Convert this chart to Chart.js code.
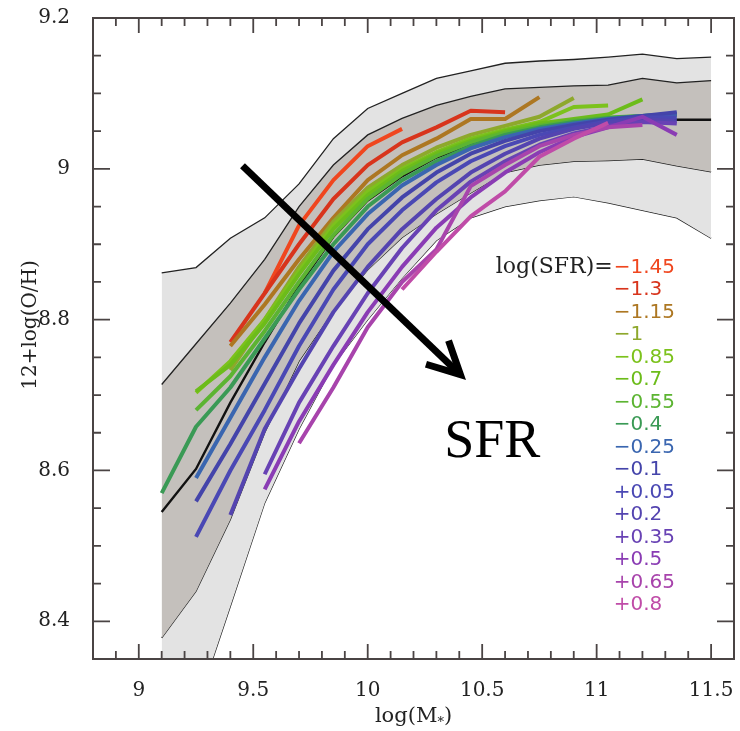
<!DOCTYPE html>
<html>
<head>
<meta charset="utf-8">
<script src="https://cdn.jsdelivr.net/npm/chart.js@4/dist/chart.umd.min.js"></script>
<style>
  html, body { margin: 0; padding: 0; background: #fff; }
</style>
</head>
<body>
<canvas id="mzr" width="740" height="731"></canvas>
<script>
// stellar mass bins, log(M*)
const massBins = [9.1, 9.25, 9.4, 9.55, 9.7, 9.85, 10.0, 10.15, 10.3, 10.45, 10.6, 10.75, 10.9, 11.05, 11.2, 11.35, 11.5];

// distribution envelopes, 12+log(O/H)
const outerUpper = [8.862, 8.869, 8.908, 8.935, 8.98, 9.04, 9.08, 9.10, 9.12, 9.13, 9.14, 9.143, 9.145, 9.148, 9.152, 9.146, 9.148];
const innerUpper = [8.714, 8.768, 8.822, 8.88, 8.95, 9.005, 9.045, 9.067, 9.084, 9.096, 9.106, 9.108, 9.110, 9.111, 9.12, 9.114, 9.117];
const medianLine = [8.545, 8.602, 8.69, 8.77, 8.845, 8.91, 8.958, 8.99, 9.015, 9.032, 9.045, 9.053, 9.058, 9.062, 9.064, 9.065, 9.065];
const innerLower = [8.378, 8.44, 8.535, 8.65, 8.745, 8.812, 8.866, 8.909, 8.94, 8.968, 8.995, 9.005, 9.01, 9.011, 9.013, 9.004, 8.996];
const outerLower = [8.15, 8.284, 8.42, 8.557, 8.655, 8.74, 8.80, 8.855, 8.905, 8.935, 8.95, 8.958, 8.963, 8.955, 8.945, 8.935, 8.908];

// one curve per log(SFR) bin (null = no data in that mass bin)
const sfrM145 = [null, null, null, 8.835, 8.925, 8.985, 9.03, 9.053, null, null, null, null, null, null, null, null, null];
const sfrM130 = [null, null, 8.77, 8.835, 8.9, 8.96, 9.005, 9.035, 9.055, 9.077, 9.075, null, null, null, null, null, null];
const sfrM115 = [null, null, 8.765, 8.82, 8.88, 8.935, 8.985, 9.018, 9.04, 9.066, 9.066, 9.095, null, null, null, null, null];
const sfrM100 = [null, null, 8.733, 8.80, 8.87, 8.93, 8.975, 9.005, 9.028, 9.045, 9.057, 9.069, 9.094, null, null, null, null];
const sfrM085 = [null, 8.703, 8.745, 8.80, 8.865, 8.925, 8.97, 9.0, 9.022, 9.04, 9.052, 9.062, 9.082, 9.084, null, null, null];
const sfrM070 = [null, 8.705, 8.74, 8.795, 8.86, 8.92, 8.965, 8.997, 9.02, 9.037, 9.05, 9.06, 9.066, 9.072, 9.092, null, null];
const sfrM055 = [null, 8.68, 8.725, 8.785, 8.85, 8.912, 8.96, 8.993, 9.017, 9.035, 9.048, 9.057, 9.064, 9.068, 9.07, 9.072, null];
const sfrM040 = [8.57, 8.658, 8.71, 8.775, 8.84, 8.9, 8.95, 8.985, 9.01, 9.03, 9.045, 9.055, 9.062, 9.067, 9.07, 9.072, null];
const sfrM025 = [null, 8.59, 8.67, 8.75, 8.825, 8.89, 8.94, 8.978, 9.005, 9.027, 9.042, 9.053, 9.06, 9.066, 9.07, 9.073, null];
const sfrM010 = [null, 8.559, 8.635, 8.715, 8.795, 8.865, 8.92, 8.962, 8.995, 9.02, 9.037, 9.05, 9.058, 9.065, 9.07, 9.075, null];
const sfrP005 = [null, 8.512, 8.60, 8.68, 8.765, 8.84, 8.9, 8.945, 8.982, 9.01, 9.03, 9.045, 9.055, 9.063, 9.068, 9.068, null];
const sfrP020 = [null, null, 8.541, 8.655, 8.735, 8.81, 8.87, 8.92, 8.96, 8.995, 9.02, 9.04, 9.053, 9.061, 9.066, 9.063, null];
const sfrP035 = [null, null, null, 8.595, 8.69, 8.765, 8.835, 8.895, 8.945, 8.983, 9.01, 9.032, 9.047, 9.057, 9.062, 9.06, null];
const sfrP050 = [null, null, null, 8.575, 8.665, 8.74, 8.81, 8.87, 8.922, 8.962, 8.995, 9.022, 9.042, 9.055, 9.069, 9.045, null];
const sfrP065 = [null, null, null, null, 8.636, 8.71, 8.79, 8.85, 8.893, 8.977, 9.005, 9.03, 9.045, 9.055, 9.058, null, null];
const sfrP080 = [null, null, null, null, null, null, null, 8.84, 8.89, 8.937, 8.97, 9.016, 9.04, 9.061, null, null, null];

const sfrSeries = [sfrM145, sfrM130, sfrM115, sfrM100, sfrM085, sfrM070, sfrM055, sfrM040,
                   sfrM025, sfrM010, sfrP005, sfrP020, sfrP035, sfrP050, sfrP065, sfrP080];
const sfrLabels = ['\u22121.45', '\u22121.3', '\u22121.15', '\u22121', '\u22120.85', '\u22120.7', '\u22120.55', '\u22120.4',
                   '\u22120.25', '\u22120.1', '+0.05', '+0.2', '+0.35', '+0.5', '+0.65', '+0.8'];
const sfrColors = ['#f0461e', '#d8341c', '#ad7722', '#8ea82c', '#7cc21c', '#6cbc1a', '#5cb432', '#3a9a55',
                   '#3a66b0', '#4444aa', '#4a48b4', '#5444b0', '#6842b4', '#8a3cb4', '#a844ac', '#c04ca8'];

// axis ticks
const xMajorTicks = [9, 9.5, 10, 10.5, 11, 11.5];
const yMajorTicks = [8.4, 8.6, 8.8, 9, 9.2];

// annotation arrow (data coords) and its label
const arrowFrom = { x: 9.453, y: 9.004 };
const arrowTo = { x: 10.405, y: 8.727 };
const arrowText = { x: 10.544, y: 8.637, text: 'SFR' };

const toPoints = vals => massBins.map((m, i) => ({ x: m, y: vals[i] })).filter(p => p.y !== null);
const isMajor = (v, list) => list.some(t => Math.abs(t - v) < 1e-6);

const axisColor = '#4a4444';
const serif = '"DejaVu Serif", serif';

const datasets = [];
sfrSeries.forEach((vals, i) => {
    datasets.push({
        label: sfrLabels[i],
        data: toPoints(vals),
        borderColor: sfrColors[i],
        borderWidth: 4,
        pointRadius: 0,
        fill: false,
        tension: 0,
        borderJoinStyle: 'round',
        order: 100 - i
    });
});
const base = datasets.length;
datasets.push({ label: 'median', data: toPoints(medianLine), borderColor: '#111', borderWidth: 2.4, pointRadius: 0, fill: false, order: 150 });
datasets.push({ label: 'inner upper', data: toPoints(innerUpper), borderColor: '#222', borderWidth: 1.3, pointRadius: 0,
                fill: { target: base + 2 }, backgroundColor: '#c4c0bc', order: 200 });
datasets.push({ label: 'inner lower', data: toPoints(innerLower), borderColor: '#222', borderWidth: 1.3, pointRadius: 0, fill: false, order: 201 });
datasets.push({ label: 'outer upper', data: toPoints(outerUpper), borderColor: '#222', borderWidth: 1.3, pointRadius: 0,
                fill: { target: base + 4 }, backgroundColor: '#e3e3e3', order: 300 });
datasets.push({ label: 'outer lower', data: toPoints(outerLower), borderColor: '#222', borderWidth: 1.3, pointRadius: 0, fill: false, order: 301 });

const decorPlugin = {
    id: 'decor',
    afterDatasetsDraw(chart) {
        const ctx = chart.ctx;
        const xs = chart.scales.x, ys = chart.scales.y;
        const a = chart.chartArea;

        // arrow
        const x0 = xs.getPixelForValue(arrowFrom.x), y0 = ys.getPixelForValue(arrowFrom.y);
        const x1 = xs.getPixelForValue(arrowTo.x), y1 = ys.getPixelForValue(arrowTo.y);
        const ang = Math.atan2(y1 - y0, x1 - x0);
        ctx.save();
        ctx.strokeStyle = '#000';
        ctx.lineWidth = 7;
        ctx.lineCap = 'butt';
        ctx.beginPath(); ctx.moveTo(x0, y0); ctx.lineTo(x1, y1); ctx.stroke();
        ctx.lineJoin = 'miter';
        ctx.beginPath();
        ctx.moveTo(x1 - 36 * Math.cos(ang - 0.47), y1 - 36 * Math.sin(ang - 0.47));
        ctx.lineTo(x1, y1);
        ctx.lineTo(x1 - 36 * Math.cos(ang + 0.47), y1 - 36 * Math.sin(ang + 0.47));
        ctx.stroke();

        ctx.fillStyle = '#000';
        ctx.font = '54px "Liberation Serif", serif';
        ctx.textAlign = 'center';
        ctx.textBaseline = 'middle';
        ctx.fillText(arrowText.text, xs.getPixelForValue(arrowText.x), ys.getPixelForValue(arrowText.y));

        // legend of SFR bins
        const lx = xs.getPixelForValue(11.07), ly = ys.getPixelForValue(8.869);
        ctx.font = '22px ' + serif;
        ctx.fillStyle = '#222';
        ctx.textAlign = 'right';
        ctx.fillText('log(SFR)=', lx, ly);
        ctx.font = '20px "DejaVu Sans", sans-serif';
        ctx.textAlign = 'left';
        sfrLabels.forEach((t, i) => {
            ctx.fillStyle = sfrColors[i];
            ctx.fillText(t, lx + 1, ly + i * 22.5);
        });

        // frame and inward ticks
        ctx.strokeStyle = axisColor;
        ctx.lineWidth = 2;
        ctx.strokeRect(a.left, a.top, a.right - a.left, a.bottom - a.top);
        ctx.lineWidth = 1.8;
        ctx.beginPath();
        xs.ticks.forEach(t => {
            const px = xs.getPixelForValue(t.value);
            const len = isMajor(t.value, xMajorTicks) ? 15 : 8;
            ctx.moveTo(px, a.bottom); ctx.lineTo(px, a.bottom - len);
            ctx.moveTo(px, a.top); ctx.lineTo(px, a.top + len);
        });
        ys.ticks.forEach(t => {
            const py = ys.getPixelForValue(t.value);
            const len = isMajor(t.value, yMajorTicks) ? 17 : 8;
            ctx.moveTo(a.left, py); ctx.lineTo(a.left + len, py);
            ctx.moveTo(a.right, py); ctx.lineTo(a.right - len, py);
        });
        ctx.stroke();

        // axis titles
        ctx.fillStyle = '#222';
        ctx.textBaseline = 'alphabetic';
        ctx.textAlign = 'left';
        const p1 = 'log(M', p3 = ')';
        ctx.font = '21px ' + serif;
        const w1 = ctx.measureText(p1).width, w3 = ctx.measureText(p3).width;
        ctx.font = '13px ' + serif;
        const w2 = ctx.measureText('*').width;
        const tx = (a.left + a.right) / 2 - (w1 + w2 + w3) / 2;
        const ty = 722;
        ctx.font = '21px ' + serif;
        ctx.fillText(p1, tx, ty);
        ctx.font = '13px ' + serif;
        ctx.fillText('*', tx + w1, ty + 4);
        ctx.font = '21px ' + serif;
        ctx.fillText(p3, tx + w1 + w2, ty);

        ctx.translate(36, 325);
        ctx.rotate(-Math.PI / 2);
        ctx.textAlign = 'center';
        ctx.font = '20px ' + serif;
        ctx.fillText('12+log(O/H)', 0, 0);
        ctx.restore();
    }
};

new Chart(document.getElementById('mzr'), {
    type: 'line',
    data: { datasets },
    plugins: [decorPlugin],
    options: {
        responsive: false,
        devicePixelRatio: 1,
        animation: false,
        layout: { padding: { top: 18, right: 6, left: 0, bottom: 0 } },
        plugins: { legend: { display: false }, tooltip: { enabled: false } },
        scales: {
            x: {
                type: 'linear', min: 8.8, max: 11.6,
                grid: { display: false },
                border: { display: false },
                afterFit: s => { s.height = 72; s.paddingLeft = 0; s.paddingRight = 0; },
                ticks: {
                    stepSize: 0.1, autoSkip: false, maxRotation: 0, padding: 12,
                    color: '#222', font: { family: serif, size: 20 },
                    callback: v => isMajor(v, xMajorTicks) ? String(parseFloat(v.toFixed(1))) : ''
                }
            },
            y: {
                type: 'linear', min: 8.35, max: 9.2,
                grid: { display: false },
                border: { display: false },
                afterFit: s => { s.width = 93; s.paddingTop = 0; s.paddingBottom = 0; },
                ticks: {
                    stepSize: 0.05, autoSkip: false, padding: 15,
                    color: '#222', font: { family: serif, size: 20 },
                    callback: v => isMajor(v, yMajorTicks) ? String(parseFloat(v.toFixed(1))) : ''
                }
            }
        }
    }
});
</script>
</body>
</html>
